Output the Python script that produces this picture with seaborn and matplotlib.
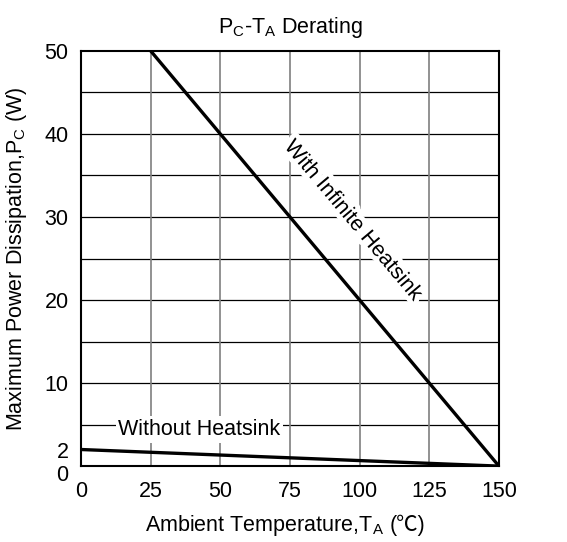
import numpy as np
import pandas as pd
import matplotlib
matplotlib.use('Agg')
import matplotlib.pyplot as plt
import matplotlib.patheffects as pe
import matplotlib.transforms as mtransforms
import seaborn as sns

# ========== DATA ==========
inf_temp = [25, 150]
inf_power = [50, 0]
no_temp = [0, 150]
no_power = [2, 0]
x_ticks = [0, 25, 50, 75, 100, 125, 150]
y_ticks = [0, 2, 10, 20, 30, 40, 50]

df = pd.concat([
    pd.DataFrame({'Temp': inf_temp, 'Power': inf_power, 'Curve': 'With Infinite Heatsink'}),
    pd.DataFrame({'Temp': no_temp, 'Power': no_power, 'Curve': 'Without Heatsink'}),
], ignore_index=True)

# ========== STYLE ==========
sns.set_style('white')
plt.rcParams['font.family'] = ['Liberation Sans', 'Noto Sans CJK SC', 'DejaVu Sans']
plt.rcParams['mathtext.fontset'] = 'custom'
plt.rcParams['mathtext.rm'] = 'Liberation Sans'
for k in ['text.color', 'axes.labelcolor', 'xtick.color', 'ytick.color']:
    plt.rcParams[k] = 'black'

FS = 15.5

fig = plt.figure(figsize=(5.67, 5.42), dpi=100)
ax = fig.add_axes([0.143, 0.140, 0.737, 0.766])

# grid: horizontal every 5 (black), vertical every 25 (grey)
for y in np.arange(5, 50, 5):
    ax.axhline(y, color='black', lw=0.9, zorder=1)
for x in x_ticks[1:-1]:
    ax.axvline(x, color='#7f7f7f', lw=1.2, zorder=1)

sns.lineplot(data=df, x='Temp', y='Power', units='Curve', estimator=None,
             color='black', lw=2.4, ax=ax, zorder=3)

ax.set_xlim(0, 150)
ax.set_ylim(0, 50)
ax.set_xticks(x_ticks)
ax.set_yticks(y_ticks)
ax.tick_params(length=0, labelsize=FS)
ax.tick_params(axis='x', pad=11)
ax.tick_params(axis='y', pad=9)
for s in ax.spines.values():
    s.set_color('black')
    s.set_linewidth(1.5)
    s.set_zorder(4)

# push the y "0" label down a bit so it clears the "2"
ylab0 = ax.get_yticklabels()[0]
ylab0.set_transform(ylab0.get_transform() + mtransforms.ScaledTranslation(0, -5 / 72, fig.dpi_scale_trans))

# labels
ax.set_xlabel('Ambient Temperature,$\\mathregular{T_A}$', fontsize=FS, ha='center')
ax.xaxis.set_label_coords(0.44, -0.113)
ax.annotate('(℃)', xy=(1, 0.5), xycoords=ax.xaxis.label, xytext=(4, 0),
            textcoords='offset points', ha='left', va='center', fontsize=FS)
ax.set_ylabel('Maximum Power Dissipation,$\\mathregular{P_C}$ (W)', fontsize=FS)
ax.yaxis.set_label_coords(-0.124, 0.5)
ax.set_title('$\\mathregular{P_C}$-$\\mathregular{T_A}$ Derating', fontsize=FS, y=1.022)

stroke = [pe.withStroke(linewidth=7, foreground='white')]
ax.text(97.5, 29.6, 'With Infinite Heatsink', fontsize=FS, rotation=-50,
        ha='center', va='center', rotation_mode='anchor', zorder=2, path_effects=stroke)
ax.text(42.5, 4.4, 'Without Heatsink', fontsize=FS, ha='center', va='center',
        zorder=2, bbox=dict(facecolor='white', edgecolor='none', pad=2))

fig.savefig('out.png', dpi=100)
